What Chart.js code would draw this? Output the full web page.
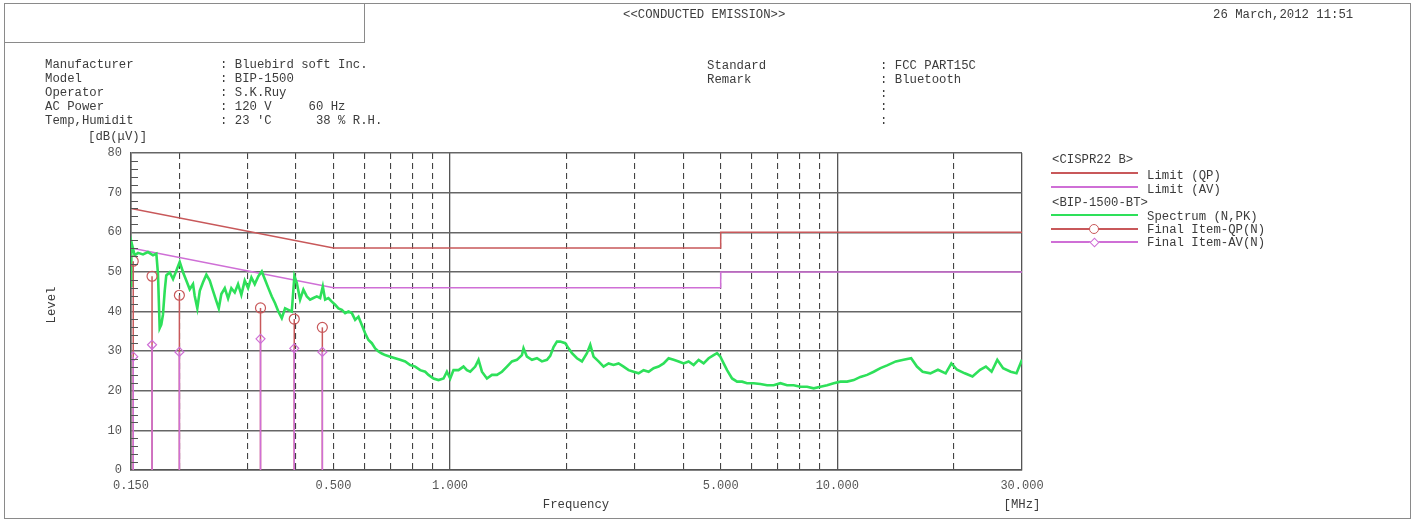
<!DOCTYPE html>
<html>
<head>
<meta charset="utf-8">
<script src="https://cdn.jsdelivr.net/npm/chart.js@4.4.0/dist/chart.umd.min.js"></script>
<style>
body { margin: 0; background: #fff; }
#page { position: relative; width: 1413px; height: 521px; overflow: hidden;
        font-family: "Liberation Mono", "DejaVu Sans Mono", monospace; font-size: 12.3px; color: #3c3c3c; }
#chart { position: absolute; left: 0; top: 0; }
.t { position: absolute; white-space: pre; line-height: 14px; transform: translateY(-50%); }
.frame { position: absolute; border: 1.5px solid #8a8a8a; box-sizing: border-box; }
.sw { position: absolute; left: 1051px; width: 87px; height: 2px; }
</style>
</head>
<body>
<div id="page">
  <canvas id="chart" width="1413" height="521"></canvas>

  <div class="frame" style="left:4px;top:3px;width:1407px;height:516px;"></div>
  <div class="frame" style="left:4px;top:3px;width:361px;height:40px;"></div>

  <div class="t" style="left:623px;top:15px;">&lt;&lt;CONDUCTED EMISSION&gt;&gt;</div>
  <div class="t" style="left:1213px;top:15px;">26 March,2012 11:51</div>

  <div class="t" style="left:45px;top:65px;">Manufacturer</div>
  <div class="t" style="left:45px;top:79px;">Model</div>
  <div class="t" style="left:45px;top:93px;">Operator</div>
  <div class="t" style="left:45px;top:107px;">AC Power</div>
  <div class="t" style="left:45px;top:121px;">Temp,Humidit</div>
  <div class="t" style="left:220px;top:65px;">: Bluebird soft Inc.</div>
  <div class="t" style="left:220px;top:79px;">: BIP-1500</div>
  <div class="t" style="left:220px;top:93px;">: S.K.Ruy</div>
  <div class="t" style="left:220px;top:107px;">: 120 V     60 Hz</div>
  <div class="t" style="left:220px;top:121px;">: 23 'C      38 % R.H.</div>

  <div class="t" style="left:707px;top:66px;">Standard</div>
  <div class="t" style="left:707px;top:80px;">Remark</div>
  <div class="t" style="left:880px;top:66px;">: FCC PART15C</div>
  <div class="t" style="left:880px;top:80px;">: Bluetooth</div>
  <div class="t" style="left:880px;top:94px;">:</div>
  <div class="t" style="left:880px;top:107px;">:</div>
  <div class="t" style="left:880px;top:121px;">:</div>

  <div class="t" style="left:88px;top:137px;">[dB(μV)]</div>
  <div class="t" style="left:52px;top:305px;transform:translate(-50%,-50%) rotate(-90deg);">Level</div>
  <div class="t" style="left:576px;top:505px;transform:translate(-50%,-50%);">Frequency</div>
  <div class="t" style="left:1022px;top:505px;transform:translate(-50%,-50%);">[MHz]</div>

  <!-- legend -->
  <div class="t" style="left:1052px;top:160px;">&lt;CISPR22 B&gt;</div>
  <div class="sw" style="top:172px;background:#c8585a;"></div>
  <div class="t" style="left:1147px;top:176px;">Limit (QP)</div>
  <div class="sw" style="top:186px;background:#cf6fd6;"></div>
  <div class="t" style="left:1147px;top:190px;">Limit (AV)</div>
  <div class="t" style="left:1052px;top:203px;">&lt;BIP-1500-BT&gt;</div>
  <div class="sw" style="top:214px;background:#2ee05a;"></div>
  <div class="t" style="left:1147px;top:217px;">Spectrum (N,PK)</div>
  <div class="sw" style="top:228px;background:#c8585a;"></div>
  <div style="position:absolute;left:1089px;top:224px;width:10px;height:10px;border:1.3px solid #c8585a;border-radius:50%;box-sizing:border-box;background:#fff;"></div>
  <div class="t" style="left:1147px;top:230px;">Final Item-QP(N)</div>
  <div class="sw" style="top:241px;background:#cf6fd6;"></div>
  <div style="position:absolute;left:1091px;top:238.5px;width:7px;height:7px;border:1.3px solid #cf6fd6;transform:rotate(45deg);box-sizing:border-box;background:#fff;"></div>
  <div class="t" style="left:1147px;top:243px;">Final Item-AV(N)</div>
</div>

<script>
// Conducted emission plot, frequency axis in MHz (log), level in dB(uV)

const xTickValues = [0.15, 0.2, 0.3, 0.4, 0.5, 0.6, 0.7, 0.8, 0.9, 1, 2, 3, 4, 5, 6, 7, 8, 9, 10, 20, 30];
const xLabelValues = [0.15, 0.5, 1, 5, 10, 30];
const xSolidValues = [0.15, 1, 10, 30];

const qpLimitFreq = [0.15, 0.5, 5, 5, 30];
const qpLimitLevel = [66, 56, 56, 60, 60];
const avLimitFreq = [0.15, 0.5, 5, 5, 30];
const avLimitLevel = [56, 46, 46, 50, 50];

const finalFreq = [0.152, 0.170, 0.200, 0.324, 0.396, 0.468];
const finalQP = [52.7, 48.9, 44.1, 40.9, 38.1, 36.0];
const finalAV = [28.6, 31.6, 29.8, 33.1, 30.7, 29.8];

const specFreq = [
    0.150, 0.1503, 0.1533, 0.1564, 0.1611, 0.1659, 0.1710, 0.1744, 0.1761, 0.1779,
    0.1796, 0.1814, 0.1833, 0.1850, 0.1888, 0.1926, 0.1964, 0.2004, 0.2044, 0.2084,
    0.2127, 0.2169, 0.2191, 0.2225, 0.2258, 0.2302, 0.2348, 0.2396, 0.2443, 0.2492,
    0.2528, 0.2567, 0.2620, 0.2672, 0.2724, 0.2780, 0.2835, 0.2891, 0.2950, 0.3009,
    0.3069, 0.3131, 0.3199, 0.3265, 0.3329, 0.3395, 0.3465, 0.3533, 0.3603, 0.3677,
    0.3750, 0.3824, 0.3902, 0.3963, 0.4020, 0.4100, 0.4181, 0.4267, 0.4351, 0.4438,
    0.4528, 0.4618, 0.4693, 0.4758, 0.4852, 0.4951, 0.5050, 0.5150, 0.5255, 0.5359,
    0.5466, 0.5577, 0.5688, 0.5801, 0.5919, 0.6037, 0.6157, 0.6282, 0.6407, 0.6534,
    0.6668, 0.6800, 0.7005, 0.7217, 0.7434, 0.7659, 0.7890, 0.8129, 0.8374, 0.8627,
    0.8798, 0.9064, 0.9338, 0.9620, 0.9816, 1.0011, 1.0209, 1.0518, 1.0835, 1.1057,
    1.1276, 1.1616, 1.1847, 1.2089, 1.2454, 1.2830, 1.3218, 1.3617, 1.4028, 1.4451,
    1.4884, 1.5334, 1.5481, 1.5797, 1.6275, 1.6766, 1.7272, 1.7794, 1.8147, 1.8506,
    1.8884, 1.9258, 1.9840, 2.0233, 2.0647, 2.1270, 2.1912, 2.2573, 2.3022, 2.3478,
    2.4187, 2.4917, 2.5670, 2.6445, 2.7244, 2.8067, 2.8914, 2.9788, 3.0687, 3.1614,
    3.2569, 3.3553, 3.4566, 3.5610, 3.6686, 3.7794, 3.8935, 4.0111, 4.1322, 4.2570,
    4.3856, 4.5181, 4.6545, 4.7951, 4.8931, 4.9901, 5.0891, 5.1931, 5.3499, 5.5115,
    5.6779, 5.8494, 6.0834, 6.3307, 6.5882, 6.8521, 7.1300, 7.4202, 7.7174, 8.0312,
    8.3578, 8.6925, 9.0460, 9.4139, 9.7910, 10.189, 10.603, 11.028, 11.477, 11.943,
    12.422, 12.927, 13.452, 14.167, 14.831, 15.518, 16.062, 16.617, 17.396, 18.200,
    19.054, 19.710, 20.390, 21.347, 22.347, 23.381, 24.202, 25.037, 25.901, 26.810,
    28.050, 29.036, 30.0
];
const specLevel = [
    46.5, 57.6, 54.2, 54.8, 54.4, 55.0, 54.2, 54.6, 49.5, 35.8,
    36.7, 39.2, 45.2, 49.1, 49.9, 48.2, 50.3, 52.5, 49.9, 47.8,
    45.6, 46.9, 43.9, 40.8, 45.2, 47.4, 49.3, 47.8, 45.2, 42.6,
    40.8, 44.4, 45.9, 43.3, 45.9, 44.8, 46.9, 44.2, 47.8, 45.9,
    48.6, 46.9, 48.9, 50.1, 48.0, 45.9, 43.8, 42.1, 40.0, 38.3,
    40.8, 40.4, 40.0, 48.9, 47.2, 43.0, 45.5, 43.8, 43.0, 43.4,
    43.8, 43.4, 46.3, 43.0, 43.4, 42.5, 41.7, 40.8, 40.4, 39.6,
    40.0, 39.6, 37.9, 38.7, 36.6, 34.5, 32.8, 32.0, 30.7, 29.9,
    29.4, 29.0, 28.6, 28.2, 27.8, 27.4, 26.5, 26.1, 25.2, 24.8,
    24.0, 23.1, 22.7, 23.1, 24.8, 23.1, 25.2, 25.2, 26.1, 25.2,
    24.8, 26.1, 27.8, 24.8, 23.1, 24.0, 24.0, 24.8, 26.1, 27.4,
    27.8, 29.0, 30.7, 28.6, 27.8, 28.2, 27.4, 27.8, 28.8, 31.0,
    32.4, 32.4, 32.0, 30.7, 29.5, 28.2, 27.4, 29.5, 31.6, 28.6,
    27.4, 26.1, 26.9, 26.5, 26.9, 26.1, 25.2, 24.8, 24.4, 25.2,
    24.8, 25.7, 26.1, 26.9, 28.2, 27.8, 27.4, 26.9, 27.4, 26.5,
    27.8, 26.9, 28.2, 29.0, 29.5, 28.6, 26.9, 25.2, 23.1, 22.3,
    22.3, 21.9, 21.9, 21.7, 21.4, 21.4, 21.9, 21.4, 21.4, 21.0,
    21.0, 20.6, 21.0, 21.4, 21.9, 22.3, 22.3, 22.7, 23.5, 24.0,
    24.8, 25.7, 26.4, 27.4, 27.8, 28.2, 26.1, 24.8, 24.4, 25.3,
    24.4, 26.9, 25.3, 24.4, 23.6, 25.3, 26.1, 24.8, 27.8, 25.7,
    24.8, 24.4, 27.8
];

const MONO = '"Liberation Mono", "DejaVu Sans Mono", monospace';
const QP_COLOR = '#c8585a';
const AV_COLOR = '#cf6fd6';
const SPEC_COLOR = '#2ee05a';

function pairs(xs, ys) {
    return xs.map((x, i) => ({ x: x, y: ys[i] }));
}

const datasets = [];

// final item stems, AV on top of QP
finalFreq.forEach((f, i) => {
    datasets.push({
        data: [{ x: f, y: 0 }, { x: f, y: finalAV[i] }],
        borderColor: AV_COLOR, borderWidth: 1.5,
        pointRadius: [0, 4.5], pointStyle: 'rectRot',
        pointBorderColor: AV_COLOR, pointBackgroundColor: 'rgba(0,0,0,0)', pointBorderWidth: 1.2,
        order: 1
    });
    datasets.push({
        data: [{ x: f, y: 0 }, { x: f, y: finalQP[i] }],
        borderColor: QP_COLOR, borderWidth: 1.5,
        pointRadius: [0, 5], pointStyle: 'circle',
        pointBorderColor: QP_COLOR, pointBackgroundColor: 'rgba(0,0,0,0)', pointBorderWidth: 1.2,
        order: 2
    });
});

datasets.push({
    data: pairs(specFreq, specLevel),
    borderColor: SPEC_COLOR, borderWidth: 2.6, pointRadius: 0, order: 3
});
datasets.push({
    data: pairs(qpLimitFreq, qpLimitLevel),
    borderColor: QP_COLOR, borderWidth: 1.5, pointRadius: 0, order: 4
});
datasets.push({
    data: pairs(avLimitFreq, avLimitLevel),
    borderColor: AV_COLOR, borderWidth: 1.5, pointRadius: 0, order: 4
});

// short inner tick marks on the level axis
const minorTicks = {
    id: 'minorTicks',
    afterDraw(chart) {
        const y = chart.scales.y, a = chart.chartArea, c = chart.ctx;
        c.save();
        c.strokeStyle = '#555';
        c.lineWidth = 1;
        y.ticks.forEach(t => {
            if (t.value % 10 !== 0) {
                const py = Math.round(y.getPixelForValue(t.value)) + 0.5;
                c.beginPath();
                c.moveTo(a.left, py);
                c.lineTo(a.left + 7, py);
                c.stroke();
            }
        });
        c.restore();
    }
};

new Chart(document.getElementById('chart'), {
    type: 'line',
    data: { datasets: datasets },
    plugins: [minorTicks],
    options: {
        responsive: false,
        animation: false,
        devicePixelRatio: 1,
        layout: { padding: { left: 0, top: 153, right: 391, bottom: 0 } },
        plugins: { legend: { display: false }, tooltip: { enabled: false } },
        elements: { line: { tension: 0 } },
        scales: {
            x: {
                type: 'logarithmic',
                min: 0.15,
                max: 30,
                afterBuildTicks: s => { s.ticks = xTickValues.map(v => ({ value: v })); },
                afterFit: s => { s.height = 51; },
                ticks: {
                    autoSkip: false, maxRotation: 0, padding: 9, color: '#555',
                    font: { family: MONO, size: 12 },
                    callback: v => xLabelValues.includes(v) ? v.toFixed(3) : ''
                },
                grid: {
                    drawTicks: false,
                    lineWidth: c => (c.tick && xSolidValues.includes(c.tick.value)) ? 1.3 : 1.1,
                    color: c => (c.tick && xSolidValues.includes(c.tick.value)) ? '#555' : '#444'
                },
                border: {
                    color: '#555', width: 1.5,
                    dash: c => (c.tick && !xSolidValues.includes(c.tick.value)) ? [6, 4] : []
                }
            },
            y: {
                min: 0,
                max: 80,
                afterFit: s => { s.width = 131; },
                ticks: {
                    stepSize: 2, autoSkip: false, padding: 9, color: '#555',
                    font: { family: MONO, size: 12 },
                    callback: v => v % 10 === 0 ? v : ''
                },
                grid: {
                    drawTicks: false,
                    lineWidth: 1.4,
                    color: c => (c.tick && c.tick.value % 10 === 0) ? '#666' : 'rgba(0,0,0,0)'
                },
                border: { color: '#555', width: 1.5 }
            }
        }
    }
});
</script>
</body>
</html>
